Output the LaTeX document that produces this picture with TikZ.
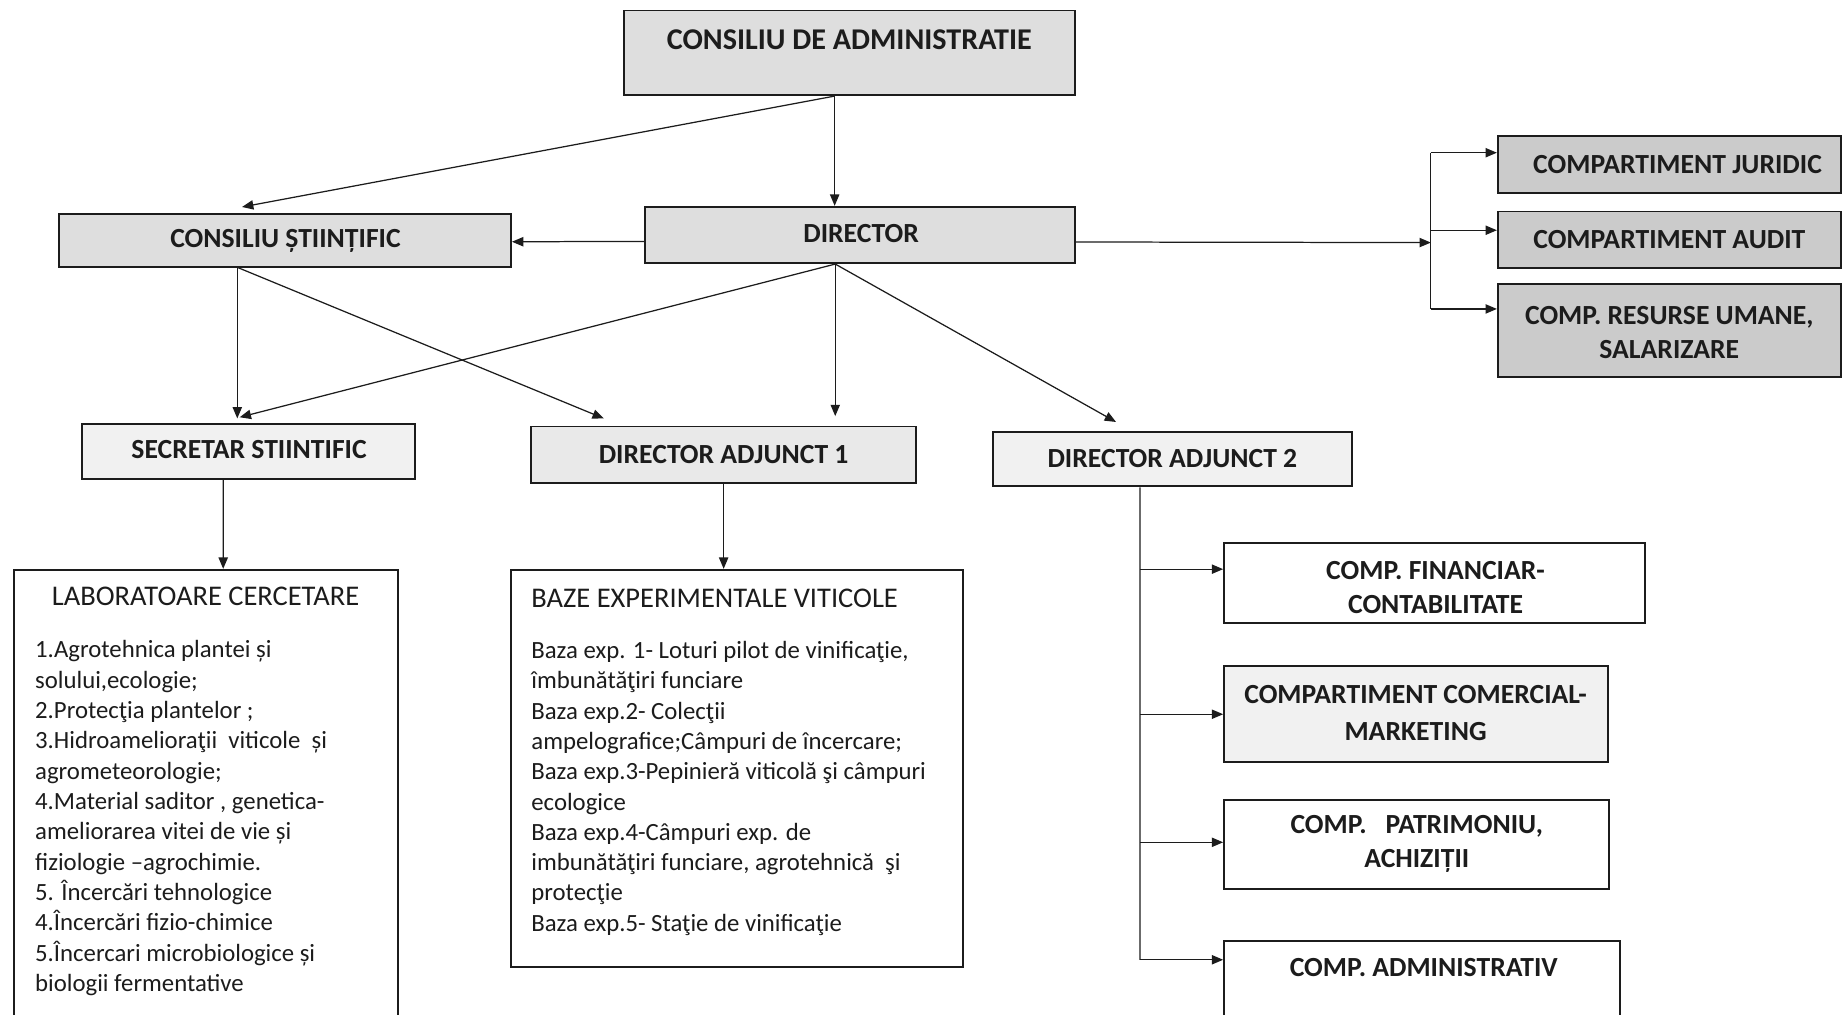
\documentclass[tikz,border=0pt]{standalone}
\usepackage{fontspec}
\setmainfont{Carlito}
\usetikzlibrary{arrows.meta}
\definecolor{gA}{HTML}{DEDEDE}
\definecolor{gB}{HTML}{CBCBCB}
\definecolor{gC}{HTML}{F1F1F1}
\definecolor{gD}{HTML}{E9E9E9}
\definecolor{ink}{HTML}{1C1C1C}
\def\u{0.02cm}
\tikzset{
  box/.style={draw=ink, line width=0.9pt, inner sep=0pt},
  lbl/.style={text=ink, font=\fontsize{13.4}{16.5}\selectfont\bfseries, inner sep=0pt, align=center},
  ttl/.style={text=ink, font=\fontsize{13.8}{16}\selectfont, inner sep=0pt},
  body/.style={text=ink, font=\fontsize{12}{14.69}\selectfont, inner sep=0pt, align=left, anchor=north west},
  arr/.style={draw=ink, line width=0.6pt, -{Triangle[length=5.5pt,width=4.5pt]}},
  ln/.style={draw=ink, line width=0.6pt},
}
\begin{document}
\begin{tikzpicture}[x=0.02cm,y=-0.02cm]
\useasboundingbox[fill=white] (0,0) rectangle (1568,864);
\clip (0,0) rectangle (1568,864);
% boxes
\node[box, fill=gA, minimum width=384*\u, minimum height=72*\u] (cda) at (723,45) {};
\node[box, fill=gA, minimum width=385*\u, minimum height=45*\u] (cs) at (242.5,204.5) {};
\node[box, fill=gA, minimum width=366*\u, minimum height=48*\u] (dir) at (732,200) {};
\node[box, fill=gB, minimum width=292*\u, minimum height=48*\u] (jur) at (1421,140) {};
\node[box, fill=gB, minimum width=292*\u, minimum height=48*\u] (aud) at (1421,204) {};
\node[box, fill=gB, minimum width=292*\u, minimum height=79*\u] (res) at (1421,281.5) {};
\node[box, fill=gC, minimum width=283*\u, minimum height=47*\u] (sec) at (211.5,384.5) {};
\node[box, fill=gD, minimum width=328*\u, minimum height=48*\u] (da1) at (616,387) {};
\node[box, fill=gC, minimum width=306*\u, minimum height=46*\u] (da2) at (998,391) {};
\node[box, fill=white, minimum width=327*\u, minimum height=395*\u] (lab) at (175.5,682.5) {};
\node[box, fill=white, minimum width=385*\u, minimum height=338*\u] (baze) at (627.5,654) {};
\node[box, fill=white, minimum width=358*\u, minimum height=68*\u] (fin) at (1221,496) {};
\node[box, fill=gC, minimum width=327*\u, minimum height=82*\u] (com) at (1205.5,608) {};
\node[box, fill=white, minimum width=328*\u, minimum height=76*\u] (pat) at (1206,719) {};
\node[box, fill=white, minimum width=337*\u, minimum height=79*\u] (adm) at (1210.5,840.5) {};
% labels
\node[lbl, font=\fontsize{14.6}{17}\selectfont\bfseries] (tcda) at (723,34) {CONSILIU DE ADMINISTRATIE};
\node[lbl] (tcs) at (243,205) {CONSILIU ȘTIINȚIFIC};
\node[lbl] (tdir) at (733,199) {DIRECTOR};
\node[lbl] (tjur) at (1428,140) {COMPARTIMENT JURIDIC};
\node[lbl] (taud) at (1421,204) {COMPARTIMENT AUDIT};
\node[lbl] (tres) at (1421,283) {COMP. RESURSE UMANE,\\SALARIZARE};
\node[lbl] (tsec) at (212,383) {SECRETAR STIINTIFIC};
\node[lbl] (tda1) at (616,387) {DIRECTOR ADJUNCT 1};
\node[lbl] (tda2) at (998,390) {DIRECTOR ADJUNCT 2};
\node[lbl] (tfin) at (1222,500) {COMP. FINANCIAR-\\CONTABILITATE};
\node[lbl, font=\fontsize{13.4}{18}\selectfont\bfseries] (tcom) at (1205,607) {COMPARTIMENT COMERCIAL-\\MARKETING};
\node[lbl] (tpat) at (1206,718) {COMP.\ \ \ PATRIMONIU,\\ACHIZIȚII};
\node[lbl] (tadm) at (1212,824) {COMP. ADMINISTRATIV};
\node[ttl] (tlab) at (175,508) {LABORATOARE CERCETARE};
\node[ttl, anchor=west] (tbaze) at (452,509) {BAZE EXPERIMENTALE VITICOLE};
\node[body] (blab) at (29.6,545) {1.Agrotehnica plantei și\\
solului,ecologie;\\
2.Protecţia plantelor ;\\
3.Hidroamelioraţii\ \ viticole\ \ și\\
agrometeorologie;\\
4.Material saditor , genetica-\\
ameliorarea vitei de vie și\\
fiziologie –agrochimie.\\
5. Încercări tehnologice\\
4.Încercări fizio-chimice\\
5.Încercari microbiologice și\\
biologii fermentative};
\node[body] (bbaze) at (452,545.5) {Baza exp. 1- Loturi pilot de vinificaţie,\\
îmbunătăţiri funciare\\
Baza exp.2- Colecţii\\
ampelografice;Câmpuri de încercare;\\
Baza exp.3-Pepinieră viticolă şi câmpuri\\
ecologice\\
Baza exp.4-Câmpuri exp. de\\
imbunătăţiri funciare, agrotehnică\ \ şi\\
protecţie\\
Baza exp.5- Staţie de vinificaţie};
% connectors top
\draw[arr] ([xshift=-12.5*\u]cda.south) -- ([xshift=-21.5*\u]dir.north);
\draw[arr] ([xshift=-12.5*\u]cda.south) -- ([xshift=-36.5*\u,yshift=5*\u]cs.north);
\draw[arr] ([yshift=-5.5*\u]dir.west) -- ([yshift=-1.3*\u]cs.east);
\coordinate (br) at (1218,206.5);
\coordinate (brT) at (1218,130);
\coordinate (brM) at (1218,196);
\coordinate (brB) at (1218,263);
\draw[arr] ([yshift=-6*\u]dir.east) -- (br);
\draw[ln] (brT) -- (brB);
\draw[arr] (brT) -- (brT -| jur.west);
\draw[arr] (brM) -- (brM -| aud.west);
\draw[arr] (brB) -- (brB -| res.west);
% middle
\draw[arr] ([xshift=-40.5*\u]cs.south) -- ([xshift=-9.5*\u,yshift=4*\u]sec.north);
\draw[arr] ([xshift=-40*\u]cs.south) -- ([xshift=-102*\u,yshift=6*\u]da1.north);
\draw[arr] ([xshift=-21*\u]dir.south) -- ([xshift=-7.5*\u,yshift=5*\u]sec.north);
\draw[arr] ([xshift=-21*\u]dir.south) -- ([xshift=95*\u,yshift=8*\u]da1.north);
\draw[arr] ([xshift=-21*\u]dir.south) -- ([xshift=-48*\u,yshift=8*\u]da2.north);
\draw[arr] ([xshift=-21.5*\u]sec.south) -- ([xshift=14.5*\u]lab.north);
\draw[arr] (da1.south) -- ([xshift=-11.5*\u]baze.north);
% director adjunct 2 branches
\coordinate (d1) at (970.5,484.5);
\coordinate (d2) at (970.5,608);
\coordinate (d3) at (970.5,717);
\coordinate (d4) at (970.5,817);
\draw[ln] ([xshift=-27.5*\u]da2.south) -- (d4);
\draw[arr] (d1) -- (d1 -| fin.west);
\draw[arr] (d2) -- (d2 -| com.west);
\draw[arr] (d3) -- (d3 -| pat.west);
\draw[arr] (d4) -- (d4 -| adm.west);
\end{tikzpicture}
\end{document}
